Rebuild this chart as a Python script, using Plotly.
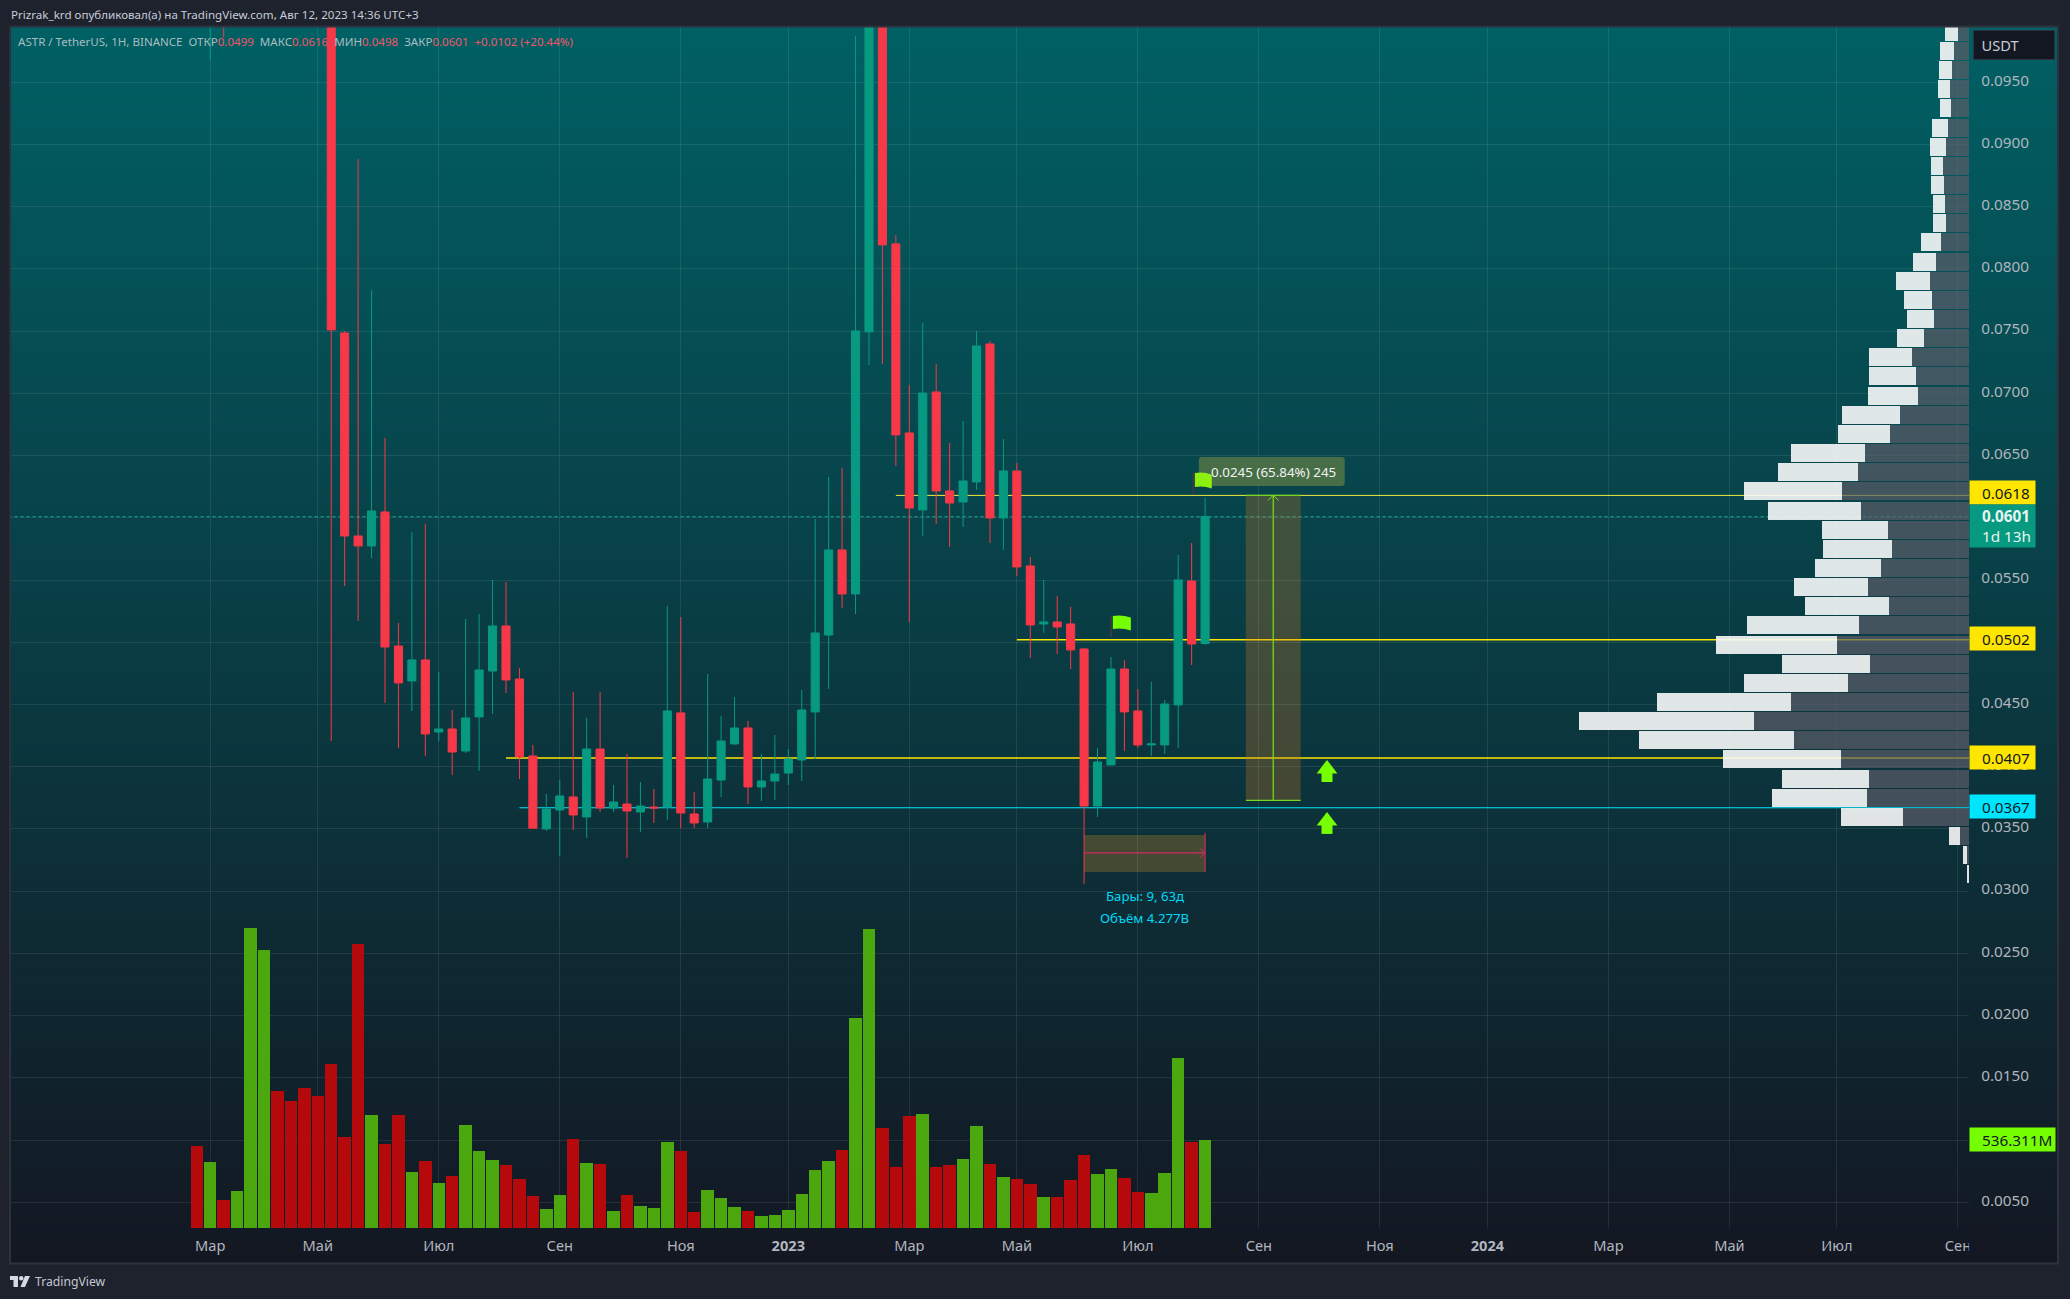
import plotly.graph_objs as go

W = 2070
H = 1299

# weekly candles, index 0 = first volume bar (first ten candles run above the visible range)
OPEN = [.135, .112, .128, .105, .14, .20, .22, .18, .16, .135,
        .125, .07485, .05854, .05774, .06047, .04970, .04689, .04858, .04279, .04303,
        .04126, .04400, .04769, .05131, .04705, .04086, .03500, .03652, .03757, .03596,
        .04142, .03668, .03700, .03636, .03676, .03676, .04432, .03620, .03556, .03893,
        .04183, .04311, .03837, .03885, .03949, .04054, .04440, .05058, .05742, .05388,
        .07494, .118, .08201, .06682, .06063, .07011, .06216, .06127, .06288, .07397,
        .05999, .06376, .05613, .05147, .05163, .05147, .04946, .03684, .04014, .04785,
        .04448, .04175, .04175, .04496, .05492, .0499]
HIGH = [.14, .135, .132, .15, .22, .25, .225, .185, .17, .145,
        .13, .07502, .08884, .07831, .06642, .05155, .05886, .05950, .04761, .04456,
        .05187, .05227, .05501, .05484, .04793, .04175, .03781, .03893, .04601, .04392,
        .04601, .03853, .04102, .03877, .03821, .05292, .05203, .03797, .04745, .04408,
        .04560, .04367, .04102, .04255, .04142, .04617, .05991, .06328, .06401, .09872,
        .135, .128, .08273, .07068, .07566, .07236, .06601, .06778, .07502, .07421,
        .06634, .06441, .05685, .05501, .05372, .05284, .04954, .04150, .04882, .04858,
        .04625, .04681, .04536, .05701, .05798, .0616]
LOW = [.108, .0968, .0986, .102, .135, .18, .17, .14, .125, .12,
       .04207, .05452, .05171, .05677, .04512, .04150, .04448, .04086, .04207, .03934,
       .04110, .03966, .04424, .04592, .03901, .03506, .03484, .03282, .03492, .03427,
       .03636, .03636, .03266, .03476, .03548, .03572, .03506, .03506, .03506, .03757,
       .04175, .03700, .03724, .03733, .03853, .03885, .04062, .04625, .05276, .05227,
       .07228, .07236, .06417, .05163, .05854, .05950, .05766, .05926, .06224, .05798,
       .05742, .05533, .04874, .05075, .04906, .04785, .03058, .03596, .04014, .04126,
       .04150, .04086, .04102, .04150, .04817, .0498]
CLOSE = [.112, .128, .105, .14, .20, .22, .18, .15, .135, .125,
         .07510, .05854, .05774, .06055, .04962, .04673, .04858, .04263, .04303, .04118,
         .04392, .04777, .05131, .04697, .04078, .03506, .03660, .03765, .03612, .04142,
         .03668, .03716, .03644, .03684, .03668, .04448, .03628, .03548, .03901, .04207,
         .04311, .03837, .03885, .03941, .04062, .04456, .05075, .05742, .05388, .07502,
         .118, .08193, .06666, .06079, .07003, .06216, .06119, .06296, .07381, .05999,
         .06376, .05605, .05139, .05163, .05123, .04938, .03684, .04038, .04785, .04440,
         .04175, .04183, .04504, .05501, .04986, .0601]

# volume in millions
VOLUME = [500, 402, 171, 225, 1828, 1694, 835, 774, 853, 804,
          999, 555, 1731, 689, 512, 689, 341, 408, 274, 317,
          628, 469, 414, 384, 299, 195, 116, 201, 542, 396,
          390, 104, 201, 134, 122, 524, 469, 98, 232, 183,
          128, 104, 73, 79, 110, 207, 353, 408, 475, 1280,
          1822, 609, 372, 683, 695, 372, 384, 420, 622, 390,
          311, 299, 268, 189, 189, 293, 445, 329, 360, 305,
          219, 213, 335, 1036, 524, 536.311]
VOLUME_SIDE = "RGRGGGRRRRRRRGRRGRGRGGGRRRGGRGRGRGGGRRGGGRGGGGGGRGGRRRGRRGGRGRRGRRRGGRRGGGRG"

# volume profile rows, right aligned
VP_PRICE = [.09905, .09752, .09598, .09444, .09290, .09136, .08982, .08828, .08675, .08521,
            .08367, .08213, .08059, .07905, .07751, .07597, .07443, .07289, .07136, .06982,
            .06828, .06674, .06520, .06366, .06212, .06058, .05904, .05750, .05597, .05443,
            .05289, .05135, .04981, .04827, .04673, .04519, .04365, .04211, .04058, .03904,
            .03750, .03596, .03442, .03288, .03134]
VP_DARK = [33, 45, 51, 57, 54, 63, 69, 78, 75, 72,
           69, 84, 99, 117, 111, 105, 135, 171, 159, 153,
           207, 237, 312, 333, 381, 324, 243, 231, 264, 303,
           240, 330, 396, 297, 363, 534, 645, 525, 384, 300,
           306, 198, 27, 6, 0]
VP_LIGHT = [39, 42, 39, 36, 33, 48, 48, 36, 39, 36,
            39, 60, 69, 102, 84, 81, 81, 129, 141, 150,
            174, 156, 222, 240, 294, 279, 198, 207, 198, 222,
            252, 336, 363, 264, 312, 402, 525, 465, 354, 261,
            285, 186, 33, 12, 6]

PRICE_TICKS = [.005, .01, .015, .02, .025, .03, .035, .04, .045, .05,
               .055, .06, .065, .07, .075, .08, .085, .09, .095]
DATE_TICKS = [1, 9, 18, 27, 36, 44, 53, 61, 70, 79, 88, 96, 105, 114, 122, 131]
DATE_LABELS = ["Мар", "Май", "Июл", "Сен", "Ноя", "<b>2023</b>", "Мар", "Май", "Июл", "Сен",
               "Ноя", "<b>2024</b>", "Мар", "Май", "Июл", "Сен"]

# drawn levels: price, first bar, colour, width
LEVEL_PRICE = [.0618, .0502, .0407, .0367]
LEVEL_START = [52, 61, 23, 24]
LEVEL_COLOR = ["#F2EE3C", "#FFE600", "#FFE600", "#00E5FF"]
LEVEL_WIDTH = [1, 1.3, 1.3, 1]
LAST_PRICE = .0601
ARROW_X = [84.07, 84.07]
ARROW_HEAD_Y = [.03982, .03564]
ARROW_TAIL_Y = [.03921, .03504]

FONT = "Noto Sans"
RED = "#F73848"
GREEN = "#089981"
LIME = "#76FF03"
GRID = "rgba(240,243,250,0.09)"
LABEL = "#B2B5BE"
PAD = "\u00a0\u00a0\u00a0"


def px(x):
    return x / W


def py(y):
    return 1 - y / H


def flag_path(x0, x1, y0, y1):
    # small waving flag, top edge and bottom edge bow the same way
    mid = (x0 + x1) / 2
    bow = (y1 - y0) * 0.12
    return "M %f %f Q %f %f %f %f L %f %f Q %f %f %f %f Z" % (
        x0, y1, mid, y1 + bow, x1, y1 - bow, x1, y0 - bow, mid, y0 + bow, x0, y0)


idx = list(range(len(OPEN)))

background = go.Heatmap(
    z=[[0, 0], [1, 1]], x=[0, 1], y=[0, 1], zsmooth="best", showscale=False, hoverinfo="skip",
    colorscale=[[0, "#131722"], [1, "#006064"]], xaxis="x", yaxis="y")

candle = go.Candlestick(
    x=idx, open=OPEN, high=HIGH, low=LOW, close=CLOSE, whiskerwidth=0,
    increasing=dict(line=dict(color=GREEN, width=1), fillcolor=GREEN),
    decreasing=dict(line=dict(color=RED, width=1), fillcolor=RED),
    xaxis="x2", yaxis="y2", showlegend=False)

volume = go.Bar(
    x=idx, y=VOLUME, width=0.93, xaxis="x2", yaxis="y3", showlegend=False,
    marker=dict(color=["rgba(187,9,11,0.97)" if s == "R" else "rgba(78,172,14,0.97)" for s in VOLUME_SIDE],
                line=dict(width=0)))

vp_dark = go.Bar(
    y=VP_PRICE, x=VP_DARK, orientation="h", width=0.00145, xaxis="x3", yaxis="y2", showlegend=False,
    marker=dict(color="rgba(91,93,104,0.7)", line=dict(width=0)))
vp_light = go.Bar(
    y=VP_PRICE, x=VP_LIGHT, orientation="h", width=0.00145, xaxis="x3", yaxis="y2", showlegend=False,
    marker=dict(color="rgba(247,248,248,0.9)", line=dict(width=0)))

arrow_heads = go.Scatter(
    x=ARROW_X, y=ARROW_HEAD_Y, mode="markers", xaxis="x2", yaxis="y2", showlegend=False,
    marker=dict(symbol="triangle-up", size=18, color=LIME, line=dict(width=0)))
arrow_tails = go.Scatter(
    x=ARROW_X, y=ARROW_TAIL_Y, mode="markers", xaxis="x2", yaxis="y2", showlegend=False,
    marker=dict(symbol="square", size=11, color=LIME, line=dict(width=0)))

shapes = []

# levels sit under the candles
shapes.append(dict(type="line", xref="x2", yref="y2", x0=-14, x1=132, y0=LAST_PRICE, y1=LAST_PRICE,
                   layer="below", line=dict(color=GREEN, width=1.3, dash="dot")))
for price, start, color, lw in zip(LEVEL_PRICE, LEVEL_START, LEVEL_COLOR, LEVEL_WIDTH):
    shapes.append(dict(type="line", xref="x2", yref="y2", x0=start, x1=132, y0=price, y1=price,
                       layer="below", line=dict(color=color, width=lw)))

# long position box
shapes.append(dict(type="rect", xref="x2", yref="y2", x0=78.03, x1=82.11, y0=.0373, y1=.0618,
                   layer="below", fillcolor="rgba(197,120,37,0.3)", line=dict(width=0)))
for y in [.0373, .0618]:
    shapes.append(dict(type="line", xref="x2", yref="y2", x0=78.03, x1=82.11, y0=y, y1=y,
                       line=dict(color="#76D71C", width=1.3)))
shapes.append(dict(type="line", xref="x2", yref="y2", x0=80.07, x1=80.07, y0=.0373, y1=.0618,
                   line=dict(color="#76D71C", width=1.3)))
shapes.append(dict(type="path", xref="x2", yref="y2", path="M 79.67 .0614 L 80.07 .0618 L 80.47 .0614",
                   line=dict(color="#76D71C", width=1)))

# measure label box, rounded, under the flag
box = ("M %f %f L %f %f Q %f %f %f %f L %f %f Q %f %f %f %f L %f %f Q %f %f %f %f L %f %f Q %f %f %f %f Z" % (
    px(1203), py(457), px(1343), py(457), px(1346), py(457), px(1346), py(460),
    px(1346), py(483), px(1346), py(486), px(1343), py(486),
    px(1203), py(486), px(1200), py(486), px(1200), py(483),
    px(1200), py(460), px(1200), py(457), px(1203), py(457)))
shapes.append(dict(type="path", xref="paper", yref="paper", path=box, fillcolor="#486E48", line=dict(width=0)))

# date range box
shapes.append(dict(type="rect", xref="x2", yref="y2", x0=66, x1=75, y0=.03154, y1=.03451,
                   layer="below", fillcolor="rgba(197,140,37,0.3)", line=dict(width=0)))
shapes.append(dict(type="line", xref="x2", yref="y2", x0=66, x1=75, y0=.03307, y1=.03307,
                   line=dict(color="#D02A60", width=1.2)))
shapes.append(dict(type="line", xref="x2", yref="y2", x0=75, x1=75, y0=.03154, y1=.0347,
                   line=dict(color="#D02A60", width=1.2)))
shapes.append(dict(type="path", xref="x2", yref="y2", path="M 74.6 .03347 L 75 .03307 L 74.6 .03267",
                   line=dict(color="#D02A60", width=1)))

# flags
shapes.append(dict(type="line", xref="x2", yref="y2", x0=68.0, x1=68.0, y0=.05042, y1=.05211,
                   line=dict(color="#363A45", width=2)))
shapes.append(dict(type="path", xref="x2", yref="y2", path=flag_path(68.14, 69.48, .05107, .05211),
                   fillcolor=LIME, line=dict(width=0)))
shapes.append(dict(type="line", xref="x2", yref="y2", x0=74.1, x1=74.1, y0=.06192, y1=.0636,
                   line=dict(color="#363A45", width=2)))
shapes.append(dict(type="path", xref="x2", yref="y2", path=flag_path(74.24, 75.5, .06248, .0636),
                   fillcolor="#8EF00E", line=dict(width=0)))

# hides the part of the last date label that runs past the pane
shapes.append(dict(type="rect", xref="paper", yref="paper", x0=px(1971), x1=px(2000), y0=py(1262), y1=py(1229),
                   fillcolor="#131722", line=dict(width=0)))
# panel frame
shapes.append(dict(type="rect", xref="paper", yref="paper", x0=px(10), x1=px(2060), y0=py(1263.5), y1=py(26.5),
                   line=dict(color="#2E323E", width=2)))
shapes.append(dict(type="line", xref="paper", yref="paper", x0=px(10), x1=px(10), y0=py(1263), y1=py(27),
                   line=dict(color="#2E323E", width=1)))

# TradingView mark
logo = "M %f %f L %f %f L %f %f L %f %f L %f %f L %f %f Z" % (
    px(10), py(1276), px(18), py(1276), px(18), py(1287), px(13.5), py(1287), px(13.5), py(1280), px(10), py(1280))
slash = "M %f %f L %f %f L %f %f L %f %f Z" % (
    px(25), py(1276), px(30), py(1276), px(25), py(1287), px(20.5), py(1287))
for path in [logo, slash]:
    shapes.append(dict(type="path", xref="paper", yref="paper", path=path, fillcolor="#D6D9E0", line=dict(width=0)))
shapes.append(dict(type="circle", xref="paper", yref="paper", x0=px(19), x1=px(23.5), y0=py(1280.5), y1=py(1276),
                   fillcolor="#D6D9E0", line=dict(width=0)))


annotations = []


def note(text, x, y, xref="paper", yref="paper", size=12, color=LABEL, **kw):
    annotations.append(dict(text=text, x=x, y=y, xref=xref, yref=yref, showarrow=False,
                            font=dict(family=FONT, size=size, color=color), **kw))


def tag(text, y, bg, color="#131722", width=65, height=23, yshift=0, yref="y2", size=15.3):
    note(text, px(1971), y, yref=yref, size=size, color=color, xanchor="left", yanchor="middle",
         bgcolor=bg, width=width, height=height, borderpad=0, align="left", yshift=yshift)


note("Prizrak_krd опубликовал(а) на TradingView.com, Авг 12, 2023 14:36 UTC+3",
     px(9), py(15), xanchor="left", yanchor="middle", size=11.6, color="#C8CCD6")

red_val = lambda s: '<span style="color:#F0566A">%s</span>' % s
legend = ("ASTR / TetherUS, 1H, BINANCE\u00a0\u00a0ОТКР" + red_val("0.0499") +
          "\u00a0\u00a0МАКС" + red_val("0.0616") +
          "\u00a0\u00a0МИН" + red_val("0.0498") +
          "\u00a0\u00a0ЗАКР" + red_val("0.0601") +
          "\u00a0\u00a0" + red_val("+0.0102 (+20.44%)"))
note(legend, px(16), py(42), xanchor="left", yanchor="middle", size=11.55, color="#A9BCC0")

note("TradingView", px(33), py(1281.5), xanchor="left", yanchor="middle", size=12.2, color="#C4C8D2")

note("0.0245 (65.84%) 245", 80.07, .06372, xref="x2", yref="y2", size=13.4, color="#F0F3F0",
     xanchor="center", yanchor="middle")
note("Бары: 9, 63д", 70.5, .02961, xref="x2", yref="y2", size=13.2, color="#00D8F5",
     xanchor="center", yanchor="middle")
note("Объём 4.277B", 70.5, .02784, xref="x2", yref="y2", size=13.2, color="#00D8F5",
     xanchor="center", yanchor="middle")

# tags on the price scale
tag(PAD + "0.0618", .0618, "#FFE600", yshift=3)
tag(PAD + "0.0502", .0502, "#FFE600", yshift=1)
tag(PAD + "0.0407", .0407, "#FFE600")
tag(PAD + "0.0367", .0367, "#00E5FF", yshift=1)
tag(PAD + "<b>0.0601</b><br>" + PAD + "1d 13h", LAST_PRICE, "#089981", color="#E6F5F1", height=42, yshift=-9)
tag(PAD + "536.311M", VOLUME[-1], LIME, yref="y3", width=85)
note("\u00a0\u00a0USDT", px(1975), py(45), size=14.6, color="#C8CCD6", xanchor="left", yanchor="middle",
     bgcolor="#131722", bordercolor="#2E323E", borderwidth=1, width=80, height=28, borderpad=0, align="left")

layout = go.Layout(
    width=W, height=H, margin=dict(l=0, r=0, t=0, b=0), autosize=False,
    paper_bgcolor="#1E222D", plot_bgcolor="rgba(0,0,0,0)",
    barmode="stack", boxgap=0.14, showlegend=False, hovermode=False,
    xaxis=dict(domain=[px(10), px(2060)], range=[0, 1], visible=False, fixedrange=True, anchor="y"),
    yaxis=dict(domain=[py(1263), py(27)], range=[0, 1], visible=False, fixedrange=True, anchor="x"),
    xaxis2=dict(domain=[px(11), px(1971)], range=[-13.82, 131.83], anchor="y2",
                tickmode="array", tickvals=DATE_TICKS, ticktext=DATE_LABELS, tickangle=0,
                showgrid=True, gridcolor=GRID, gridwidth=1, zeroline=False, showline=False,
                ticks="outside", ticklen=4, tickcolor="rgba(0,0,0,0)",
                tickfont=dict(family=FONT, size=14.6, color=LABEL),
                rangeslider=dict(visible=False)),
    yaxis2=dict(domain=[py(1228), py(27)], range=[.00293, .09944], anchor="x2", side="right",
                tickmode="array", tickvals=PRICE_TICKS, ticktext=["%.4f" % t for t in PRICE_TICKS],
                showgrid=True, gridcolor=GRID, gridwidth=1, zeroline=False, showline=False,
                ticks="outside", ticklen=8, tickcolor="rgba(0,0,0,0)", ticklabelshift=-2,
                tickfont=dict(family=FONT, size=15.3, color=LABEL)),
    yaxis3=dict(overlaying="y2", range=[0, 7319], visible=False, anchor="x2"),
    xaxis3=dict(overlaying="x2", range=[5880, 0], visible=False, anchor="y2"),
    shapes=shapes, annotations=annotations)

fig = go.Figure(data=[background, volume, candle, vp_dark, vp_light, arrow_tails, arrow_heads], layout=layout)
fig.write_html("out.html", config=dict(displayModeBar=False),
               post_script="document.body.style.margin='0';document.body.style.overflow='hidden';")
